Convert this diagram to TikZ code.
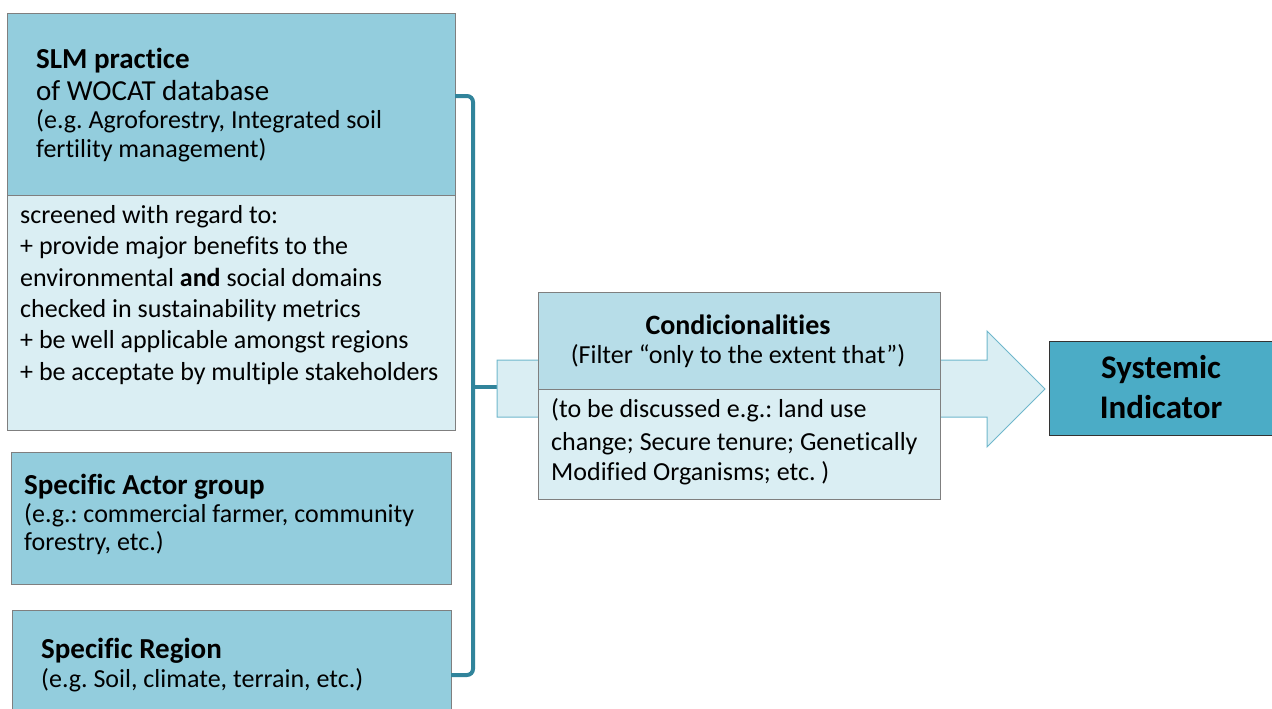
\documentclass[tikz,border=0pt]{standalone}
\usepackage{fontspec}
\setmainfont[Ligatures=NoCommon]{Carlito}
\frenchspacing
\definecolor{midblue}{HTML}{93CDDD}
\definecolor{paleblue}{HTML}{DAEEF3}
\definecolor{lightblue}{HTML}{B7DDE8}
\definecolor{strongblue}{HTML}{4BACC6}
\definecolor{bracecol}{HTML}{31849B}
\definecolor{edgegray}{HTML}{7F7F7F}
\definecolor{arrowedge}{HTML}{6FB7CC}
\tikzset{
  panel/.style={draw=edgegray, line width=1pt},
  ln/.style={inner sep=0pt, anchor=west, text=black},
  t26/.style={ln, font=\fontsize{26}{31}\selectfont, text height=19.5pt, text depth=6.5pt},
  t29/.style={ln, font=\fontsize{29}{35}\selectfont, text height=21.75pt, text depth=7.25pt},
  b29/.style={ln, font=\fontsize{29}{35}\selectfont\bfseries, text height=21.75pt, text depth=7.25pt},
  brace/.style={draw=bracecol, line width=4pt, rounded corners=6pt},
}
\begin{document}
\begin{tikzpicture}[x=1pt,y=-1pt]
\useasboundingbox (0,0) rectangle (1272,709);
% SLM box
\path[panel, fill=midblue] (7,14) rectangle (455,195);
\path[panel, fill=paleblue] (7,195) rectangle (455,430);
\node[b29] (slmt) at (36,61) {SLM practice};
\node[t29] (slm2) at (36,93) {of WOCAT database};
\node[t26] (slm3) at (36,122) {(e.g. Agroforestry, Integrated soil};
\node[t26] (slm4) at (36,151) {fertility management)};
\node[t26] (scr1) at (20,217) {screened with regard to:};
\node[t26] (scr2) at (20,248) {+ provide major benefits to the};
\node[t26] (scr3) at (20,280) {environmental \textbf{and} social domains};
\node[t26] (scr4) at (20,311) {checked in sustainability metrics};
\node[t26] (scr5) at (20,342) {+ be well applicable amongst regions};
\node[t26] (scr6) at (20,374) {+ be acceptate by multiple stakeholders};
% Actor box
\path[panel, fill=midblue] (11,452) rectangle (451,584);
\node[b29] (act1) at (24,487) {Specific Actor group};
\node[t26] (act2) at (24,516) {(e.g.: commercial farmer, community};
\node[t26] (act3) at (24,544) {forestry, etc.)};
% Region box
\path[panel, fill=midblue] (12,610) rectangle (451,715);
\node[b29] (reg1) at (41,651) {Specific Region};
\node[t26] (reg2) at (41,681) {(e.g. Soil, climate, terrain, etc.)};
% brace
\coordinate (bt) at (455,96);
\coordinate (bb) at (451,675);
\coordinate (bm) at (497,387);
\draw[brace] (bt) -- (473,96) -- (473,675) -- (bb);
\draw[draw=bracecol, line width=4pt] (473,387) -- (bm);
% big arrow
\path[draw=arrowedge, line width=1pt, fill=paleblue] (bm |- 0,360) -- (987,360) -- (987,331) -- (1045,389) -- (987,447) -- (987,417) -- (bm |- 0,417) -- cycle;
% Condicionalities box
\path[panel, fill=lightblue] (538,292) rectangle (940,389);
\path[panel, fill=paleblue] (538,389) rectangle (940,499);
\node[b29, anchor=center, font=\fontsize{28}{34}\selectfont\bfseries] (cond1) at (738,327) {Condicionalities};
\node[t26, anchor=center] (cond2) at (738,357) {(Filter “only to the extent that”)};
\node[t26] (cond3) at (551,411) {(to be discussed e.g.: land use};
\node[t26] (cond4) at (551,444) {change; Secure tenure; Genetically};
\node[t26] (cond5) at (551,474) {Modified Organisms; etc. )};
% Systemic indicator
\node[draw=black!80, line width=1pt, fill=strongblue, minimum width=224pt, minimum height=94pt, anchor=north west] (sys) at (1049,341) {};
\node[ln, anchor=center, font=\fontsize{33}{40}\selectfont\bfseries, text height=24.75pt, text depth=8.25pt] (sys1) at (1161,370) {Systemic};
\node[ln, anchor=center, font=\fontsize{33}{40}\selectfont\bfseries, text height=24.75pt, text depth=8.25pt] (sys2) at (1161,410) {Indicator};
\end{tikzpicture}
\end{document}
